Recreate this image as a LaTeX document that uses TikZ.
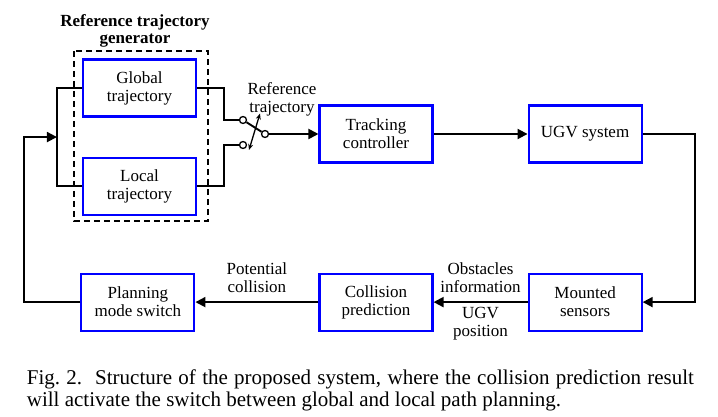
\documentclass[tikz,border=0pt]{standalone}
\usepackage{fontspec}
\setmainfont{Liberation Serif}
\usetikzlibrary{calc,arrows.meta,positioning}
\tikzset{
    bloque/.style={rectangle,draw=blue,line width=2.1pt,minimum width=113pt,minimum height=57pt,align=center,inner sep=2pt},
    flecha/.style={draw,line width=1.9pt,-{Triangle[length=10pt,width=10pt]}},
    linea/.style={draw,line width=1.9pt},
    palanca/.style={draw,line width=1.3pt,{Stealth[length=6pt,width=5pt]}-{Stealth[length=6pt,width=5pt]}},
    etiqueta/.style={align=center,inner sep=1pt},
    contacto/.style={circle,draw,fill=white,line width=1.3pt,minimum size=7pt,inner sep=0pt},
    marco/.style={draw,dashed,line width=1.2pt,dash pattern=on 6pt off 4pt},
    titulo/.style={align=center,font=\bfseries\fontsize{17}{17}\selectfont},
    leyenda/.style={text width=667pt,align=justify,inner sep=0pt,anchor=north west,font=\fontsize{21}{22}\selectfont},
}
\begin{document}
\begin{tikzpicture}[
    x=1pt,y=-1pt,
    every node/.style={font=\fontsize{17}{18}\selectfont},
]
    \useasboundingbox (0,0) rectangle (718,417);

    \node [bloque]                      (global) at (139.5,88) {Global\\trajectory};
    \node [below=39pt of global,bloque] (local) {Local\\trajectory};
    \draw [marco] (74,51) rectangle (208,221);
    \node [titulo]                      (gen) at (135,30.5) {Reference trajectory\\generator};

    \node [bloque]                      (tracking) at (376,134) {Tracking\\controller};
    \node [right=94pt of tracking,bloque] (ugv) {UGV system};
    \node [below=109pt of ugv,bloque]   (sensors) {Mounted\\sensors};
    \node [left=94pt of sensors,bloque] (collision) {Collision\\prediction};
    \node [left=123pt of collision,bloque] (planning) {Planning\\mode switch};

    % switch
    \node [contacto] (c1) at (243,120) {};
    \node [contacto] (c2) at (243,145) {};
    \node [contacto] (co) at (265,134) {};
    \coordinate (p1) at ($(co)+(-16,16)$);
    \coordinate (p2) at ($(co)+(-5,-20.5)$);
    \node [etiqueta] (reflabel) at (282,99) {Reference\\trajectory};

    \path [linea] (global.west) -- ++(-25,0) |- (local.west);
    \coordinate (bus) at ($(global.west)!0.5!(local.west)+(-25,0)$);
    \path [linea] (global.east) -- ++(27,0) |- (c1);
    \path [linea] (local.east) -- ++(27,0) |- (c2);
    \path [linea] (c1) -- (co);
    \path [palanca] (p1) -- (p2);
    \path [flecha] (co) -- (tracking);
    \path [flecha] (tracking) -- (ugv);
    \path [flecha] (ugv.east) -- ++(52,0) |- (sensors.east);
    \path [flecha] (sensors) -- node[etiqueta,above=7pt] {Obstacles\\information}
                                node[etiqueta,below=3pt] {UGV\\position} (collision);
    \path [flecha] (collision) -- node[etiqueta,above=7pt] {Potential\\collision} (planning);
    \path [flecha] (planning.west) -- ++(-56,0) |- (bus);

    \node [leyenda] (caption) at (26.7,370) {Fig.~2.\hspace{13pt}Structure of the proposed system, where the collision prediction result will activate the switch between global and local path planning.};
\end{tikzpicture}
\end{document}
